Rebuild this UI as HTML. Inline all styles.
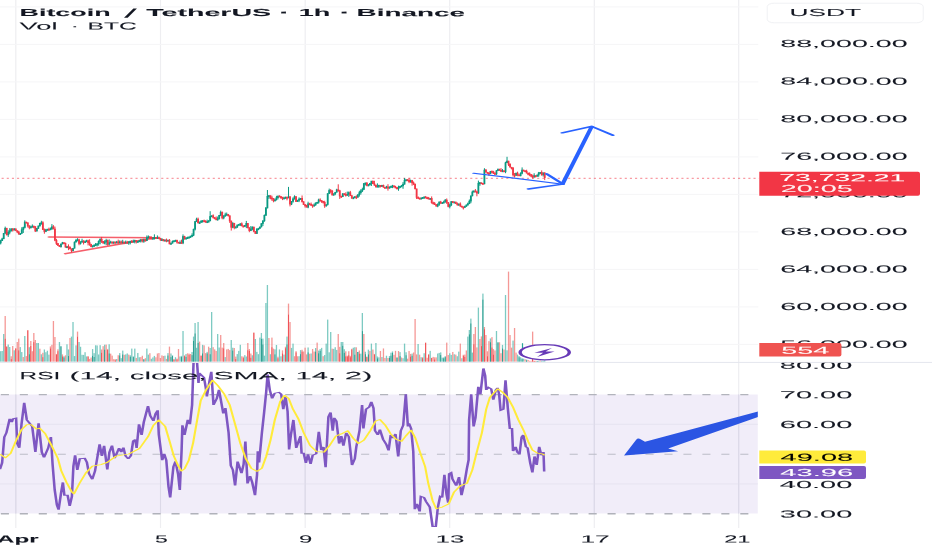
<!DOCTYPE html>
<html lang="en"><head><meta charset="utf-8"><title>Bitcoin / TetherUS chart</title>
<style>html,body{margin:0;padding:0;background:#fff;overflow:hidden}svg{display:block}text{font-family:"Liberation Sans",sans-serif;fill:#131722;stroke:#131722;stroke-width:0.06px;paint-order:stroke}</style></head><body>
<svg width="932" height="550" viewBox="0 0 932 550">
<defs><clipPath id="cpMain"><rect x="0" y="0" width="757.8" height="362"/></clipPath><clipPath id="cpRsi"><rect x="0" y="363" width="757.8" height="166"/></clipPath><clipPath id="cpAxisRsi"><rect x="758" y="362.8" width="174" height="170"/></clipPath></defs>
<rect width="932" height="550" fill="#fff"/>
<g stroke="#eeeef1" stroke-width="1.2">
<line x1="15.8" y1="0" x2="15.8" y2="528"/>
<line x1="160.5" y1="0" x2="160.5" y2="528"/>
<line x1="305.2" y1="0" x2="305.2" y2="528"/>
<line x1="449.7" y1="0" x2="449.7" y2="528"/>
<line x1="594.3" y1="0" x2="594.3" y2="528"/>
<line x1="738.7" y1="0" x2="738.7" y2="528"/>
</g>
<g stroke="#f5f5f7" stroke-width="1">
<line x1="0" y1="6.9" x2="758.3" y2="6.9"/>
<line x1="0" y1="44.4" x2="758.3" y2="44.4"/>
<line x1="0" y1="81.9" x2="758.3" y2="81.9"/>
<line x1="0" y1="119.4" x2="758.3" y2="119.4"/>
<line x1="0" y1="156.9" x2="758.3" y2="156.9"/>
<line x1="0" y1="194.4" x2="758.3" y2="194.4"/>
<line x1="0" y1="231.9" x2="758.3" y2="231.9"/>
<line x1="0" y1="269.4" x2="758.3" y2="269.4"/>
<line x1="0" y1="306.9" x2="758.3" y2="306.9"/>
<line x1="0" y1="344.4" x2="758.3" y2="344.4"/>
</g>
<rect x="0" y="394.5" width="757.8" height="119" fill="#7e57c2" fill-opacity="0.105"/>
<g stroke="#e6e3f0" stroke-width="1">
<line x1="0" y1="424.3" x2="757.8" y2="424.3"/>
<line x1="0" y1="483.9" x2="757.8" y2="483.9"/>
</g>
<g stroke="#dcd9e8" stroke-width="1">
<line x1="15.8" y1="394.5" x2="15.8" y2="513.5"/>
<line x1="160.5" y1="394.5" x2="160.5" y2="513.5"/>
<line x1="305.2" y1="394.5" x2="305.2" y2="513.5"/>
<line x1="449.7" y1="394.5" x2="449.7" y2="513.5"/>
<line x1="594.3" y1="394.5" x2="594.3" y2="513.5"/>
<line x1="738.7" y1="394.5" x2="738.7" y2="513.5"/>
</g>
<g stroke="#b2b4bc" stroke-dasharray="8.1 10.86">
<line x1="-18.12" y1="394.6" x2="757.8" y2="394.6" stroke-width="1.25" stroke="#b2b4bc"/>
<line x1="-18.12" y1="454.3" x2="757.8" y2="454.3" stroke-width="1.05" stroke="#bcbdc8"/>
<line x1="-18.12" y1="513.7" x2="757.8" y2="513.7" stroke-width="1.5" stroke="#b0b2ba"/>
</g>
<rect x="0" y="361.9" width="932" height="1" fill="#e4e6ee"/>
<g clip-path="url(#cpMain)">
<g fill="#26a69a" fill-opacity="0.6"><rect x="0.02" y="351.17" width="1.3" height="10.43"/><rect x="1.53" y="351" width="1.3" height="10.6"/><rect x="3.04" y="334" width="1.3" height="27.6"/><rect x="7.56" y="344.51" width="1.3" height="17.09"/><rect x="9.07" y="347" width="1.3" height="14.6"/><rect x="13.59" y="350.3" width="1.3" height="11.3"/><rect x="19.61" y="347.09" width="1.3" height="14.51"/><rect x="21.12" y="352.03" width="1.3" height="9.57"/><rect x="24.14" y="336" width="1.3" height="25.6"/><rect x="28.66" y="347.2" width="1.3" height="14.4"/><rect x="36.19" y="343" width="1.3" height="18.6"/><rect x="37.7" y="343" width="1.3" height="18.6"/><rect x="40.71" y="354.28" width="1.3" height="7.32"/><rect x="43.73" y="349.47" width="1.3" height="12.13"/><rect x="45.23" y="352.22" width="1.3" height="9.38"/><rect x="46.74" y="350.76" width="1.3" height="10.84"/><rect x="48.25" y="354.67" width="1.3" height="6.93"/><rect x="58.8" y="342" width="1.3" height="19.6"/><rect x="60.3" y="345.97" width="1.3" height="15.63"/><rect x="63.32" y="356.26" width="1.3" height="5.34"/><rect x="66.33" y="344.3" width="1.3" height="17.3"/><rect x="67.84" y="349.45" width="1.3" height="12.15"/><rect x="70.85" y="336.6" width="1.3" height="25"/><rect x="72.36" y="322" width="1.3" height="39.6"/><rect x="73.87" y="356.07" width="1.3" height="5.53"/><rect x="75.37" y="345.35" width="1.3" height="16.25"/><rect x="78.39" y="342" width="1.3" height="19.6"/><rect x="79.89" y="346.77" width="1.3" height="14.83"/><rect x="81.4" y="354.78" width="1.3" height="6.82"/><rect x="82.91" y="354.89" width="1.3" height="6.71"/><rect x="84.42" y="352.2" width="1.3" height="9.4"/><rect x="85.92" y="356.43" width="1.3" height="5.17"/><rect x="91.95" y="349.06" width="1.3" height="12.54"/><rect x="93.46" y="353.14" width="1.3" height="8.46"/><rect x="94.96" y="345.28" width="1.3" height="16.32"/><rect x="96.47" y="345.46" width="1.3" height="16.14"/><rect x="97.98" y="354.47" width="1.3" height="7.13"/><rect x="99.49" y="345.17" width="1.3" height="16.43"/><rect x="104.01" y="344.7" width="1.3" height="16.9"/><rect x="108.53" y="344.28" width="1.3" height="17.32"/><rect x="116.06" y="359.02" width="1.3" height="2.58"/><rect x="119.08" y="353.1" width="1.3" height="8.5"/><rect x="120.58" y="358.16" width="1.3" height="3.44"/><rect x="122.09" y="350.6" width="1.3" height="11"/><rect x="125.1" y="354.41" width="1.3" height="7.19"/><rect x="126.61" y="353.43" width="1.3" height="8.17"/><rect x="129.63" y="355.26" width="1.3" height="6.34"/><rect x="131.13" y="348.6" width="1.3" height="13"/><rect x="132.64" y="356.31" width="1.3" height="5.29"/><rect x="134.15" y="348.6" width="1.3" height="13"/><rect x="137.16" y="352.97" width="1.3" height="8.63"/><rect x="138.67" y="357.24" width="1.3" height="4.36"/><rect x="143.19" y="359.14" width="1.3" height="2.46"/><rect x="146.2" y="348.6" width="1.3" height="13"/><rect x="147.71" y="354.62" width="1.3" height="6.98"/><rect x="150.72" y="358.77" width="1.3" height="2.83"/><rect x="152.23" y="357.44" width="1.3" height="4.16"/><rect x="153.74" y="355.93" width="1.3" height="5.67"/><rect x="164.29" y="355.67" width="1.3" height="5.93"/><rect x="167.3" y="353.11" width="1.3" height="8.49"/><rect x="170.31" y="353.47" width="1.3" height="8.13"/><rect x="171.82" y="355.31" width="1.3" height="6.29"/><rect x="174.84" y="357.23" width="1.3" height="4.37"/><rect x="179.36" y="356.49" width="1.3" height="5.11"/><rect x="180.86" y="355.88" width="1.3" height="5.72"/><rect x="182.37" y="331" width="1.3" height="30.6"/><rect x="185.38" y="354.06" width="1.3" height="7.54"/><rect x="191.41" y="351.95" width="1.3" height="9.65"/><rect x="192.92" y="336.6" width="1.3" height="25"/><rect x="194.43" y="323" width="1.3" height="38.6"/><rect x="195.93" y="347.75" width="1.3" height="13.85"/><rect x="197.44" y="322" width="1.3" height="39.6"/><rect x="201.96" y="344.85" width="1.3" height="16.75"/><rect x="206.48" y="351.85" width="1.3" height="9.75"/><rect x="209.5" y="347.98" width="1.3" height="13.62"/><rect x="211" y="312" width="1.3" height="49.6"/><rect x="217.03" y="334" width="1.3" height="27.6"/><rect x="218.54" y="347.5" width="1.3" height="14.1"/><rect x="224.57" y="357.09" width="1.3" height="4.51"/><rect x="230.59" y="340" width="1.3" height="21.6"/><rect x="232.1" y="347.7" width="1.3" height="13.9"/><rect x="236.62" y="354.09" width="1.3" height="7.51"/><rect x="238.13" y="350.88" width="1.3" height="10.72"/><rect x="239.64" y="344.79" width="1.3" height="16.81"/><rect x="244.16" y="355.11" width="1.3" height="6.49"/><rect x="245.66" y="356.49" width="1.3" height="5.11"/><rect x="251.69" y="355.27" width="1.3" height="6.33"/><rect x="254.71" y="339" width="1.3" height="22.6"/><rect x="256.21" y="351.86" width="1.3" height="9.74"/><rect x="257.72" y="354.18" width="1.3" height="7.42"/><rect x="259.23" y="337.6" width="1.3" height="24"/><rect x="260.73" y="333" width="1.3" height="28.6"/><rect x="262.24" y="338.6" width="1.3" height="23"/><rect x="263.75" y="355.67" width="1.3" height="5.93"/><rect x="265.26" y="303" width="1.3" height="58.6"/><rect x="266.76" y="285" width="1.3" height="76.6"/><rect x="269.78" y="354.24" width="1.3" height="7.36"/><rect x="274.3" y="349.31" width="1.3" height="12.29"/><rect x="275.8" y="344.98" width="1.3" height="16.62"/><rect x="278.82" y="349.43" width="1.3" height="12.17"/><rect x="280.33" y="356.32" width="1.3" height="5.28"/><rect x="283.34" y="354.59" width="1.3" height="7.01"/><rect x="286.35" y="336.6" width="1.3" height="25"/><rect x="290.87" y="347.9" width="1.3" height="13.7"/><rect x="292.38" y="343.6" width="1.3" height="18"/><rect x="298.41" y="356.2" width="1.3" height="5.4"/><rect x="299.92" y="350.12" width="1.3" height="11.48"/><rect x="307.45" y="347.47" width="1.3" height="14.13"/><rect x="310.47" y="353.49" width="1.3" height="8.11"/><rect x="314.99" y="348.06" width="1.3" height="13.54"/><rect x="318" y="350.59" width="1.3" height="11.01"/><rect x="319.51" y="349.08" width="1.3" height="12.52"/><rect x="321.01" y="347.86" width="1.3" height="13.74"/><rect x="324.03" y="355.05" width="1.3" height="6.55"/><rect x="325.54" y="343.6" width="1.3" height="18"/><rect x="327.04" y="319.6" width="1.3" height="42"/><rect x="328.55" y="352.32" width="1.3" height="9.28"/><rect x="330.06" y="332" width="1.3" height="29.6"/><rect x="333.07" y="348.89" width="1.3" height="12.71"/><rect x="334.58" y="347.21" width="1.3" height="14.39"/><rect x="336.08" y="349.94" width="1.3" height="11.66"/><rect x="340.61" y="342" width="1.3" height="19.6"/><rect x="342.11" y="342" width="1.3" height="19.6"/><rect x="343.62" y="349.21" width="1.3" height="12.39"/><rect x="352.66" y="347.69" width="1.3" height="13.91"/><rect x="354.17" y="347.22" width="1.3" height="14.38"/><rect x="357.18" y="351.95" width="1.3" height="9.65"/><rect x="360.2" y="353.66" width="1.3" height="7.94"/><rect x="361.7" y="313" width="1.3" height="48.6"/><rect x="364.72" y="351.73" width="1.3" height="9.87"/><rect x="367.73" y="349.64" width="1.3" height="11.96"/><rect x="370.75" y="343.6" width="1.3" height="18"/><rect x="375.27" y="343" width="1.3" height="18.6"/><rect x="376.77" y="356.52" width="1.3" height="5.08"/><rect x="378.28" y="357.34" width="1.3" height="4.26"/><rect x="381.29" y="357.04" width="1.3" height="4.56"/><rect x="385.82" y="355.73" width="1.3" height="5.87"/><rect x="388.83" y="356.03" width="1.3" height="5.57"/><rect x="390.34" y="352.7" width="1.3" height="8.9"/><rect x="391.84" y="351.43" width="1.3" height="10.17"/><rect x="396.36" y="357.18" width="1.3" height="4.42"/><rect x="399.38" y="352.1" width="1.3" height="9.5"/><rect x="402.39" y="358.22" width="1.3" height="3.38"/><rect x="403.9" y="343.6" width="1.3" height="18"/><rect x="405.41" y="352.23" width="1.3" height="9.37"/><rect x="411.43" y="353.59" width="1.3" height="8.01"/><rect x="417.46" y="344" width="1.3" height="17.6"/><rect x="420.48" y="357.22" width="1.3" height="4.38"/><rect x="423.49" y="353.22" width="1.3" height="8.38"/><rect x="429.52" y="350.86" width="1.3" height="10.74"/><rect x="437.05" y="353.53" width="1.3" height="8.07"/><rect x="438.56" y="352.9" width="1.3" height="8.7"/><rect x="440.07" y="352.37" width="1.3" height="9.23"/><rect x="441.57" y="357.66" width="1.3" height="3.94"/><rect x="443.08" y="357.41" width="1.3" height="4.19"/><rect x="444.59" y="356.14" width="1.3" height="5.46"/><rect x="449.11" y="353.29" width="1.3" height="8.31"/><rect x="450.62" y="354.91" width="1.3" height="6.69"/><rect x="453.63" y="354.27" width="1.3" height="7.33"/><rect x="456.64" y="356.23" width="1.3" height="5.37"/><rect x="458.15" y="351.6" width="1.3" height="10"/><rect x="461.17" y="358.24" width="1.3" height="3.36"/><rect x="467.19" y="336.59" width="1.3" height="25.01"/><rect x="468.7" y="330" width="1.3" height="31.6"/><rect x="470.21" y="318.6" width="1.3" height="43"/><rect x="471.71" y="352.6" width="1.3" height="9"/><rect x="477.74" y="307.6" width="1.3" height="54"/><rect x="482.26" y="293.6" width="1.3" height="68"/><rect x="489.8" y="338.43" width="1.3" height="23.17"/><rect x="495.83" y="331" width="1.3" height="30.6"/><rect x="497.33" y="342" width="1.3" height="19.6"/><rect x="501.85" y="344.91" width="1.3" height="16.69"/><rect x="504.87" y="295" width="1.3" height="66.6"/><rect x="506.38" y="350.28" width="1.3" height="11.32"/><rect x="512.4" y="340.6" width="1.3" height="21"/><rect x="516.92" y="354.6" width="1.3" height="7"/><rect x="518.43" y="356.1" width="1.3" height="5.5"/><rect x="519.94" y="357.3" width="1.3" height="4.3"/><rect x="521.45" y="358.2" width="1.3" height="3.4"/><rect x="522.95" y="358.7" width="1.3" height="2.9"/><rect x="525.97" y="359.6" width="1.3" height="2"/><rect x="536.52" y="360.8" width="1.3" height="0.8"/><rect x="538.02" y="360.8" width="1.3" height="0.8"/><rect x="541.04" y="360.8" width="1.3" height="0.8"/><rect x="542.54" y="360.8" width="1.3" height="0.8"/><rect x="544.05" y="360.4" width="1.3" height="1.2"/></g>
<g fill="#ef5350" fill-opacity="0.6"><rect x="4.54" y="316" width="1.3" height="45.6"/><rect x="6.05" y="346.52" width="1.3" height="15.08"/><rect x="10.57" y="356.28" width="1.3" height="5.32"/><rect x="12.08" y="346" width="1.3" height="15.6"/><rect x="15.09" y="348.44" width="1.3" height="13.16"/><rect x="16.6" y="342" width="1.3" height="19.6"/><rect x="18.11" y="338.6" width="1.3" height="23"/><rect x="22.63" y="357.04" width="1.3" height="4.56"/><rect x="25.64" y="356.1" width="1.3" height="5.5"/><rect x="27.15" y="330" width="1.3" height="31.6"/><rect x="30.16" y="341" width="1.3" height="20.6"/><rect x="31.67" y="351.23" width="1.3" height="10.37"/><rect x="33.18" y="333" width="1.3" height="28.6"/><rect x="34.68" y="340" width="1.3" height="21.6"/><rect x="39.21" y="348.71" width="1.3" height="12.89"/><rect x="42.22" y="352.77" width="1.3" height="8.83"/><rect x="49.75" y="346.42" width="1.3" height="15.18"/><rect x="51.26" y="344.82" width="1.3" height="16.78"/><rect x="52.77" y="321" width="1.3" height="40.6"/><rect x="54.28" y="337" width="1.3" height="24.6"/><rect x="55.78" y="353.95" width="1.3" height="7.65"/><rect x="57.29" y="349.3" width="1.3" height="12.3"/><rect x="61.81" y="354.4" width="1.3" height="7.2"/><rect x="64.82" y="355.34" width="1.3" height="6.26"/><rect x="69.35" y="338" width="1.3" height="23.6"/><rect x="76.88" y="331.6" width="1.3" height="30"/><rect x="87.43" y="356.07" width="1.3" height="5.53"/><rect x="88.94" y="358.94" width="1.3" height="2.66"/><rect x="90.44" y="357.54" width="1.3" height="4.06"/><rect x="100.99" y="349.47" width="1.3" height="12.13"/><rect x="102.5" y="346.17" width="1.3" height="15.43"/><rect x="105.51" y="344.6" width="1.3" height="17"/><rect x="107.02" y="348.92" width="1.3" height="12.68"/><rect x="110.03" y="353.65" width="1.3" height="7.95"/><rect x="111.54" y="355.62" width="1.3" height="5.98"/><rect x="113.05" y="359.2" width="1.3" height="2.4"/><rect x="114.56" y="359.16" width="1.3" height="2.44"/><rect x="117.57" y="355.23" width="1.3" height="6.37"/><rect x="123.6" y="354.79" width="1.3" height="6.81"/><rect x="128.12" y="354.63" width="1.3" height="6.97"/><rect x="135.65" y="357.94" width="1.3" height="3.66"/><rect x="140.17" y="357.06" width="1.3" height="4.54"/><rect x="141.68" y="355.75" width="1.3" height="5.85"/><rect x="144.7" y="358.2" width="1.3" height="3.4"/><rect x="149.22" y="353.18" width="1.3" height="8.42"/><rect x="155.24" y="357.3" width="1.3" height="4.3"/><rect x="156.75" y="353.47" width="1.3" height="8.13"/><rect x="158.26" y="353.03" width="1.3" height="8.57"/><rect x="159.77" y="358.02" width="1.3" height="3.58"/><rect x="161.27" y="355.39" width="1.3" height="6.21"/><rect x="162.78" y="355.97" width="1.3" height="5.63"/><rect x="165.79" y="358.9" width="1.3" height="2.7"/><rect x="168.81" y="346.6" width="1.3" height="15"/><rect x="173.33" y="359.18" width="1.3" height="2.42"/><rect x="176.34" y="358.64" width="1.3" height="2.96"/><rect x="177.85" y="349" width="1.3" height="12.6"/><rect x="183.88" y="355.35" width="1.3" height="6.25"/><rect x="186.89" y="353.33" width="1.3" height="8.27"/><rect x="188.4" y="353.56" width="1.3" height="8.04"/><rect x="189.91" y="353.98" width="1.3" height="7.62"/><rect x="198.95" y="341.6" width="1.3" height="20"/><rect x="200.45" y="355.39" width="1.3" height="6.21"/><rect x="203.47" y="345.33" width="1.3" height="16.27"/><rect x="204.98" y="353.14" width="1.3" height="8.46"/><rect x="207.99" y="346.67" width="1.3" height="14.93"/><rect x="212.51" y="347.2" width="1.3" height="14.4"/><rect x="214.02" y="349.36" width="1.3" height="12.24"/><rect x="215.52" y="350.92" width="1.3" height="10.68"/><rect x="220.05" y="335" width="1.3" height="26.6"/><rect x="221.55" y="347.63" width="1.3" height="13.97"/><rect x="223.06" y="343" width="1.3" height="18.6"/><rect x="226.07" y="349.42" width="1.3" height="12.18"/><rect x="227.58" y="348.9" width="1.3" height="12.7"/><rect x="229.09" y="350.11" width="1.3" height="11.49"/><rect x="233.61" y="347.99" width="1.3" height="13.61"/><rect x="235.12" y="356.59" width="1.3" height="5.01"/><rect x="241.14" y="356.27" width="1.3" height="5.33"/><rect x="242.65" y="356.66" width="1.3" height="4.94"/><rect x="247.17" y="343" width="1.3" height="18.6"/><rect x="248.68" y="349.04" width="1.3" height="12.56"/><rect x="250.19" y="353.52" width="1.3" height="8.08"/><rect x="253.2" y="332.6" width="1.3" height="29"/><rect x="268.27" y="338" width="1.3" height="23.6"/><rect x="271.28" y="337.6" width="1.3" height="24"/><rect x="272.79" y="348.66" width="1.3" height="12.94"/><rect x="277.31" y="356.73" width="1.3" height="4.87"/><rect x="281.83" y="350.34" width="1.3" height="11.26"/><rect x="284.85" y="346.74" width="1.3" height="14.86"/><rect x="287.86" y="303.6" width="1.3" height="58"/><rect x="289.37" y="322" width="1.3" height="39.6"/><rect x="293.89" y="356.24" width="1.3" height="5.36"/><rect x="295.4" y="351.16" width="1.3" height="10.44"/><rect x="296.9" y="356.27" width="1.3" height="5.33"/><rect x="301.42" y="349.76" width="1.3" height="11.84"/><rect x="302.93" y="351.49" width="1.3" height="10.11"/><rect x="304.44" y="347.7" width="1.3" height="13.9"/><rect x="305.94" y="354.4" width="1.3" height="7.2"/><rect x="308.96" y="353.73" width="1.3" height="7.87"/><rect x="311.97" y="348.98" width="1.3" height="12.62"/><rect x="313.48" y="351.56" width="1.3" height="10.04"/><rect x="316.49" y="342.6" width="1.3" height="19"/><rect x="322.52" y="356.17" width="1.3" height="5.43"/><rect x="331.56" y="348.66" width="1.3" height="12.94"/><rect x="337.59" y="334" width="1.3" height="27.6"/><rect x="339.1" y="346.85" width="1.3" height="14.75"/><rect x="345.13" y="351.33" width="1.3" height="10.27"/><rect x="346.63" y="355.72" width="1.3" height="5.88"/><rect x="348.14" y="351.21" width="1.3" height="10.39"/><rect x="349.65" y="355.85" width="1.3" height="5.75"/><rect x="351.15" y="348.76" width="1.3" height="12.84"/><rect x="355.68" y="347.33" width="1.3" height="14.27"/><rect x="358.69" y="350.52" width="1.3" height="11.08"/><rect x="363.21" y="334" width="1.3" height="27.6"/><rect x="366.22" y="356.59" width="1.3" height="5.01"/><rect x="369.24" y="350.93" width="1.3" height="10.67"/><rect x="372.25" y="349.53" width="1.3" height="12.07"/><rect x="373.76" y="353.93" width="1.3" height="7.67"/><rect x="379.79" y="350.95" width="1.3" height="10.65"/><rect x="382.8" y="348.43" width="1.3" height="13.17"/><rect x="384.31" y="357.98" width="1.3" height="3.62"/><rect x="387.32" y="358" width="1.3" height="3.6"/><rect x="393.35" y="354.81" width="1.3" height="6.79"/><rect x="394.86" y="350.86" width="1.3" height="10.74"/><rect x="397.87" y="351.02" width="1.3" height="10.58"/><rect x="400.89" y="357.54" width="1.3" height="4.06"/><rect x="406.91" y="358.68" width="1.3" height="2.92"/><rect x="408.42" y="350.94" width="1.3" height="10.66"/><rect x="409.93" y="353.93" width="1.3" height="7.67"/><rect x="412.94" y="352.49" width="1.3" height="9.11"/><rect x="414.45" y="319" width="1.3" height="42.6"/><rect x="415.96" y="354.41" width="1.3" height="7.19"/><rect x="418.97" y="354.67" width="1.3" height="6.93"/><rect x="421.98" y="357.22" width="1.3" height="4.38"/><rect x="425" y="342.6" width="1.3" height="19"/><rect x="426.5" y="357.72" width="1.3" height="3.88"/><rect x="428.01" y="354.31" width="1.3" height="7.29"/><rect x="431.03" y="357.82" width="1.3" height="3.78"/><rect x="432.53" y="356.87" width="1.3" height="4.73"/><rect x="434.04" y="357.32" width="1.3" height="4.28"/><rect x="435.55" y="357.36" width="1.3" height="4.24"/><rect x="446.1" y="342.6" width="1.3" height="19"/><rect x="447.6" y="355.04" width="1.3" height="6.56"/><rect x="452.12" y="351.96" width="1.3" height="9.64"/><rect x="455.14" y="354.6" width="1.3" height="7"/><rect x="459.66" y="343.6" width="1.3" height="18"/><rect x="462.67" y="354.78" width="1.3" height="6.82"/><rect x="464.18" y="354.59" width="1.3" height="7.01"/><rect x="465.69" y="350.47" width="1.3" height="11.13"/><rect x="473.22" y="334" width="1.3" height="27.6"/><rect x="474.73" y="327" width="1.3" height="34.6"/><rect x="476.24" y="347.4" width="1.3" height="14.2"/><rect x="479.25" y="339" width="1.3" height="22.6"/><rect x="480.76" y="336.38" width="1.3" height="25.22"/><rect x="483.77" y="327" width="1.3" height="34.6"/><rect x="485.28" y="335" width="1.3" height="26.6"/><rect x="486.78" y="351.31" width="1.3" height="10.29"/><rect x="488.29" y="341.16" width="1.3" height="20.44"/><rect x="491.31" y="337.13" width="1.3" height="24.47"/><rect x="492.81" y="349.11" width="1.3" height="12.49"/><rect x="494.32" y="350.48" width="1.3" height="11.12"/><rect x="498.84" y="342.28" width="1.3" height="19.32"/><rect x="500.35" y="353.24" width="1.3" height="8.36"/><rect x="503.36" y="349.54" width="1.3" height="12.06"/><rect x="507.88" y="271.6" width="1.3" height="90"/><rect x="509.39" y="335" width="1.3" height="26.6"/><rect x="510.9" y="347.64" width="1.3" height="13.96"/><rect x="513.91" y="328" width="1.3" height="33.6"/><rect x="515.42" y="352.6" width="1.3" height="9"/><rect x="524.46" y="359.2" width="1.3" height="2.4"/><rect x="527.47" y="360" width="1.3" height="1.6"/><rect x="528.98" y="360.8" width="1.3" height="0.8"/><rect x="530.49" y="360.8" width="1.3" height="0.8"/><rect x="531.99" y="331.6" width="1.3" height="30"/><rect x="533.5" y="360.8" width="1.3" height="0.8"/><rect x="535.01" y="360.8" width="1.3" height="0.8"/><rect x="539.53" y="360.58" width="1.3" height="1.02"/></g>
<g fill="#0e8f80" fill-opacity="0.9"><rect x="28.91" y="354.32" width="0.8" height="7.28"/><rect x="60.55" y="346.68" width="0.8" height="14.92"/><rect x="63.57" y="357.52" width="0.8" height="4.08"/><rect x="68.09" y="356.01" width="0.8" height="5.59"/><rect x="92.2" y="355.88" width="0.8" height="5.72"/><rect x="93.71" y="357" width="0.8" height="4.6"/><rect x="104.26" y="349.81" width="0.8" height="11.79"/><rect x="108.78" y="353.51" width="0.8" height="8.09"/><rect x="119.33" y="355.55" width="0.8" height="6.05"/><rect x="122.34" y="354.56" width="0.8" height="7.04"/><rect x="129.88" y="356.76" width="0.8" height="4.84"/><rect x="132.89" y="357.12" width="0.8" height="4.48"/><rect x="143.44" y="359.41" width="0.8" height="2.19"/><rect x="167.55" y="355.57" width="0.8" height="6.03"/><rect x="170.56" y="357.09" width="0.8" height="4.51"/><rect x="172.07" y="356.07" width="0.8" height="5.53"/><rect x="181.11" y="357.04" width="0.8" height="4.56"/><rect x="185.63" y="356.9" width="0.8" height="4.7"/><rect x="191.66" y="355.12" width="0.8" height="6.48"/><rect x="193.17" y="340.97" width="0.8" height="20.63"/><rect x="194.68" y="333.49" width="0.8" height="28.11"/><rect x="197.69" y="342.96" width="0.8" height="18.64"/><rect x="202.21" y="353.49" width="0.8" height="8.11"/><rect x="206.73" y="353.45" width="0.8" height="8.15"/><rect x="209.75" y="354.24" width="0.8" height="7.36"/><rect x="232.35" y="350.64" width="0.8" height="10.96"/><rect x="260.98" y="338.91" width="0.8" height="22.69"/><rect x="262.49" y="344.57" width="0.8" height="17.03"/><rect x="274.55" y="354.39" width="0.8" height="7.21"/><rect x="286.6" y="344.52" width="0.8" height="17.08"/><rect x="300.17" y="354.17" width="0.8" height="7.43"/><rect x="307.7" y="352.43" width="0.8" height="9.17"/><rect x="315.24" y="351.67" width="0.8" height="9.93"/><rect x="318.25" y="353.33" width="0.8" height="8.27"/><rect x="319.76" y="350.89" width="0.8" height="10.71"/><rect x="342.36" y="345.79" width="0.8" height="15.81"/><rect x="343.87" y="352.9" width="0.8" height="8.7"/><rect x="354.42" y="354.74" width="0.8" height="6.86"/><rect x="357.43" y="352" width="0.8" height="9.6"/><rect x="361.95" y="331.13" width="0.8" height="30.47"/><rect x="364.97" y="354.26" width="0.8" height="7.34"/><rect x="367.98" y="354.44" width="0.8" height="7.16"/><rect x="377.02" y="358.45" width="0.8" height="3.15"/><rect x="389.08" y="357.94" width="0.8" height="3.66"/><rect x="390.59" y="355.68" width="0.8" height="5.92"/><rect x="392.09" y="352.93" width="0.8" height="8.67"/><rect x="396.61" y="357.96" width="0.8" height="3.64"/><rect x="399.63" y="356.14" width="0.8" height="5.46"/><rect x="405.66" y="355.26" width="0.8" height="6.34"/><rect x="411.68" y="355.75" width="0.8" height="5.85"/><rect x="440.32" y="355.07" width="0.8" height="6.53"/><rect x="443.33" y="358.41" width="0.8" height="3.19"/><rect x="444.84" y="357.13" width="0.8" height="4.47"/><rect x="468.95" y="334.4" width="0.8" height="27.2"/><rect x="470.46" y="323.51" width="0.8" height="38.09"/><rect x="482.51" y="299.66" width="0.8" height="61.94"/><rect x="490.05" y="342.3" width="0.8" height="19.3"/><rect x="497.58" y="342.79" width="0.8" height="18.81"/><rect x="502.1" y="348.59" width="0.8" height="13.01"/><rect x="518.68" y="357.29" width="0.8" height="4.31"/><rect x="521.7" y="359.16" width="0.8" height="2.44"/><rect x="526.22" y="360.53" width="0.8" height="1.07"/><rect x="536.77" y="361.13" width="0.8" height="0.47"/></g>
<g fill="#f0383f" fill-opacity="0.9"><rect x="4.79" y="338.81" width="0.8" height="22.79"/><rect x="6.3" y="346.67" width="0.8" height="14.93"/><rect x="10.82" y="359.12" width="0.8" height="2.48"/><rect x="15.34" y="348.46" width="0.8" height="13.14"/><rect x="18.36" y="350.36" width="0.8" height="11.24"/><rect x="27.4" y="330.62" width="0.8" height="30.98"/><rect x="30.41" y="345.99" width="0.8" height="15.61"/><rect x="33.43" y="342.11" width="0.8" height="19.49"/><rect x="42.47" y="357.19" width="0.8" height="4.41"/><rect x="50" y="348.59" width="0.8" height="13.01"/><rect x="56.03" y="354.69" width="0.8" height="6.91"/><rect x="57.54" y="351.19" width="0.8" height="10.41"/><rect x="62.06" y="356.59" width="0.8" height="5.01"/><rect x="77.13" y="336.8" width="0.8" height="24.8"/><rect x="87.68" y="356.83" width="0.8" height="4.77"/><rect x="101.24" y="352.83" width="0.8" height="8.77"/><rect x="107.27" y="350.04" width="0.8" height="11.56"/><rect x="114.81" y="360.32" width="0.8" height="1.28"/><rect x="173.58" y="359.59" width="0.8" height="2.01"/><rect x="176.59" y="359.44" width="0.8" height="2.16"/><rect x="184.13" y="356.24" width="0.8" height="5.36"/><rect x="188.65" y="354.77" width="0.8" height="6.83"/><rect x="200.7" y="355.94" width="0.8" height="5.66"/><rect x="223.31" y="348.43" width="0.8" height="13.17"/><rect x="235.37" y="359.08" width="0.8" height="2.52"/><rect x="242.9" y="358.1" width="0.8" height="3.5"/><rect x="247.42" y="350.31" width="0.8" height="11.29"/><rect x="248.93" y="350.99" width="0.8" height="10.61"/><rect x="250.44" y="357.78" width="0.8" height="3.82"/><rect x="253.45" y="332.78" width="0.8" height="28.82"/><rect x="271.53" y="347.22" width="0.8" height="14.38"/><rect x="277.56" y="358.27" width="0.8" height="3.33"/><rect x="282.08" y="353.57" width="0.8" height="8.03"/><rect x="285.1" y="348.3" width="0.8" height="13.3"/><rect x="288.11" y="314.65" width="0.8" height="46.95"/><rect x="295.65" y="352.45" width="0.8" height="9.15"/><rect x="301.67" y="351.66" width="0.8" height="9.94"/><rect x="339.35" y="353.3" width="0.8" height="8.3"/><rect x="345.38" y="356.36" width="0.8" height="5.24"/><rect x="346.88" y="356.63" width="0.8" height="4.97"/><rect x="348.39" y="355.32" width="0.8" height="6.28"/><rect x="349.9" y="357.28" width="0.8" height="4.32"/><rect x="351.4" y="349.56" width="0.8" height="12.04"/><rect x="358.94" y="353.73" width="0.8" height="7.87"/><rect x="366.47" y="357.09" width="0.8" height="4.51"/><rect x="374.01" y="354.66" width="0.8" height="6.94"/><rect x="410.18" y="356.71" width="0.8" height="4.89"/><rect x="422.23" y="358.24" width="0.8" height="3.36"/><rect x="425.25" y="342.88" width="0.8" height="18.72"/><rect x="428.26" y="354.68" width="0.8" height="6.92"/><rect x="431.28" y="358.03" width="0.8" height="3.57"/><rect x="434.29" y="359.6" width="0.8" height="2"/><rect x="462.92" y="355.92" width="0.8" height="5.68"/><rect x="464.43" y="356.92" width="0.8" height="4.68"/><rect x="473.47" y="344.25" width="0.8" height="17.35"/><rect x="481.01" y="346.16" width="0.8" height="15.44"/><rect x="484.02" y="329.29" width="0.8" height="32.31"/><rect x="487.03" y="356.37" width="0.8" height="5.23"/><rect x="491.56" y="347.59" width="0.8" height="14.01"/><rect x="493.06" y="354.74" width="0.8" height="6.86"/><rect x="532.24" y="345.69" width="0.8" height="15.91"/><rect x="533.75" y="360.97" width="0.8" height="0.63"/></g>
</g>
<rect x="521.9" y="343.2" width="1.2" height="5" fill="#26a69a"/>
<line x1="-3.55" y1="178.3" x2="758.8" y2="178.3" stroke="#f23645" stroke-opacity="0.62" stroke-width="1" stroke-dasharray="2.1 3.05"/>
<g transform="scale(2.7014,1)" stroke="#f23645" stroke-opacity="0.8" stroke-width="1.5" fill="none" stroke-linecap="round">
<line x1="18.29" y1="237" x2="57.56" y2="237.8"/>
<line x1="24.32" y1="253.6" x2="57.56" y2="237.8"/>
</g>
<g fill="#089981"><rect x="0.17" y="239.7" width="1" height="4.71"/><rect x="1.68" y="237.74" width="1" height="3.24"/><rect x="3.19" y="232.98" width="1" height="5.89"/><rect x="4.69" y="226.6" width="1" height="6.94"/><rect x="7.71" y="230.25" width="1" height="6.69"/><rect x="9.22" y="228.18" width="1" height="6.08"/><rect x="10.72" y="228.25" width="1" height="3.31"/><rect x="13.74" y="228.13" width="1" height="2.23"/><rect x="19.76" y="233.12" width="1" height="1.73"/><rect x="21.27" y="227.26" width="1" height="6.53"/><rect x="22.78" y="226.7" width="1" height="6.25"/><rect x="24.29" y="220.33" width="1" height="8.15"/><rect x="30.31" y="225.61" width="1" height="2.6"/><rect x="31.82" y="224.42" width="1" height="2.64"/><rect x="36.34" y="228.22" width="1" height="3.1"/><rect x="37.85" y="225.63" width="1" height="3.23"/><rect x="39.36" y="223.04" width="1" height="3.51"/><rect x="40.86" y="220.77" width="1" height="3.89"/><rect x="45.38" y="228.86" width="1" height="3.24"/><rect x="46.89" y="228.8" width="1" height="1.64"/><rect x="49.9" y="227.51" width="1" height="2.36"/><rect x="51.41" y="224.09" width="1" height="5.87"/><rect x="60.45" y="243.53" width="1" height="4.11"/><rect x="61.96" y="241.91" width="1" height="2.2"/><rect x="66.48" y="245.9" width="1" height="2.18"/><rect x="72.51" y="248.11" width="1" height="2.96"/><rect x="74.02" y="241.44" width="1" height="6.93"/><rect x="75.52" y="238.85" width="1" height="3.5"/><rect x="77.03" y="238.2" width="1" height="2.98"/><rect x="80.04" y="241.47" width="1" height="3.05"/><rect x="81.55" y="238.73" width="1" height="3.16"/><rect x="84.57" y="240.36" width="1" height="2.43"/><rect x="86.07" y="239.76" width="1" height="1.89"/><rect x="92.1" y="245.46" width="1" height="1.95"/><rect x="93.61" y="244.39" width="1" height="2.49"/><rect x="95.11" y="243.01" width="1" height="3.02"/><rect x="96.62" y="243.33" width="1" height="3.15"/><rect x="98.13" y="240.36" width="1" height="5.28"/><rect x="99.64" y="238.27" width="1" height="6.05"/><rect x="104.16" y="240.23" width="1" height="4.06"/><rect x="105.66" y="238.8" width="1" height="6.21"/><rect x="108.68" y="239.38" width="1" height="5.36"/><rect x="110.18" y="240.79" width="1" height="2.29"/><rect x="113.2" y="241.67" width="1" height="2.09"/><rect x="116.21" y="240.91" width="1" height="2.19"/><rect x="119.23" y="240.39" width="1" height="2.09"/><rect x="122.24" y="239.81" width="1" height="2.81"/><rect x="125.25" y="240.56" width="1" height="2.18"/><rect x="128.27" y="241.36" width="1" height="3.42"/><rect x="129.78" y="240.94" width="1" height="3.41"/><rect x="132.79" y="239.65" width="1" height="2.45"/><rect x="134.3" y="239.69" width="1" height="3.7"/><rect x="137.31" y="240.9" width="1" height="1.46"/><rect x="138.82" y="239.88" width="1" height="1.81"/><rect x="140.32" y="238.86" width="1" height="3.65"/><rect x="143.34" y="238.54" width="1" height="4.27"/><rect x="146.35" y="235.46" width="1" height="5.37"/><rect x="147.86" y="235.43" width="1" height="2.9"/><rect x="152.38" y="237.07" width="1" height="1.74"/><rect x="153.89" y="234.34" width="1" height="5.17"/><rect x="156.9" y="235.45" width="1" height="3.2"/><rect x="161.42" y="238.04" width="1" height="2.67"/><rect x="164.44" y="239.55" width="1" height="1.62"/><rect x="167.45" y="239.85" width="1" height="1.13"/><rect x="170.46" y="242.37" width="1" height="1.98"/><rect x="171.97" y="240.48" width="1" height="2.89"/><rect x="173.48" y="240.48" width="1" height="1.2"/><rect x="174.99" y="239.81" width="1" height="1.82"/><rect x="179.51" y="240.45" width="1" height="2.62"/><rect x="182.52" y="234.4" width="1" height="9.75"/><rect x="185.53" y="236.98" width="1" height="1.81"/><rect x="187.04" y="236.67" width="1" height="2.32"/><rect x="188.55" y="236.44" width="1" height="1.25"/><rect x="190.06" y="235.94" width="1" height="2.02"/><rect x="191.56" y="233.28" width="1" height="3.88"/><rect x="193.07" y="228.73" width="1" height="7.39"/><rect x="194.58" y="221.13" width="1" height="9.35"/><rect x="196.08" y="217.7" width="1" height="4.1"/><rect x="199.1" y="221.45" width="1" height="1.72"/><rect x="200.6" y="220.05" width="1" height="2.41"/><rect x="202.11" y="220.2" width="1" height="2.39"/><rect x="206.63" y="219.6" width="1" height="2.93"/><rect x="208.14" y="220.1" width="1" height="2.29"/><rect x="209.65" y="211.2" width="1" height="9.83"/><rect x="211.15" y="215.45" width="1" height="1.23"/><rect x="217.18" y="216.55" width="1" height="4.07"/><rect x="218.69" y="214.97" width="1" height="4.58"/><rect x="220.2" y="210.6" width="1" height="5.52"/><rect x="223.21" y="215.04" width="1" height="4.25"/><rect x="224.72" y="212.7" width="1" height="3.65"/><rect x="226.22" y="212.53" width="1" height="2.7"/><rect x="232.25" y="222.19" width="1" height="6.04"/><rect x="235.27" y="226.36" width="1" height="1.58"/><rect x="236.77" y="224.85" width="1" height="3.14"/><rect x="238.28" y="223.94" width="1" height="0.99"/><rect x="239.79" y="223.12" width="1" height="2.92"/><rect x="244.31" y="225.05" width="1" height="1.6"/><rect x="245.81" y="220.9" width="1" height="7.21"/><rect x="250.34" y="226.04" width="1" height="5.05"/><rect x="251.84" y="226.43" width="1" height="3.83"/><rect x="256.36" y="228.04" width="1" height="5.62"/><rect x="257.87" y="227.82" width="1" height="2.38"/><rect x="259.38" y="226.84" width="1" height="1.74"/><rect x="260.88" y="223.23" width="1" height="4.16"/><rect x="262.39" y="220.28" width="1" height="5.78"/><rect x="263.9" y="214.48" width="1" height="7.26"/><rect x="265.41" y="207" width="1" height="8.91"/><rect x="266.91" y="190" width="1" height="18.33"/><rect x="268.42" y="195.01" width="1" height="3.96"/><rect x="274.45" y="198.4" width="1" height="2.85"/><rect x="275.95" y="195.81" width="1" height="4.6"/><rect x="277.46" y="195.91" width="1" height="3.48"/><rect x="283.49" y="196.76" width="1" height="2.01"/><rect x="285" y="196.71" width="1" height="1.88"/><rect x="288.01" y="186.9" width="1" height="11.04"/><rect x="291.02" y="201.29" width="1" height="3.77"/><rect x="292.53" y="197.33" width="1" height="5.33"/><rect x="294.04" y="195.31" width="1" height="4.29"/><rect x="297.05" y="199.77" width="1" height="1.93"/><rect x="298.56" y="197.37" width="1" height="4.76"/><rect x="300.07" y="198.16" width="1" height="1.75"/><rect x="307.6" y="201.71" width="1" height="6.53"/><rect x="313.63" y="203.45" width="1" height="3.06"/><rect x="315.14" y="202.65" width="1" height="3.12"/><rect x="316.64" y="202.02" width="1" height="1.4"/><rect x="318.15" y="198.69" width="1" height="4.93"/><rect x="325.69" y="204.45" width="1" height="2.31"/><rect x="327.19" y="193.29" width="1" height="12.24"/><rect x="328.7" y="188.61" width="1" height="4.99"/><rect x="333.22" y="193.45" width="1" height="2.35"/><rect x="334.73" y="192.16" width="1" height="3.03"/><rect x="336.23" y="188.77" width="1" height="3.68"/><rect x="342.26" y="193.11" width="1" height="3.79"/><rect x="346.78" y="191.57" width="1" height="3.42"/><rect x="348.29" y="191.49" width="1" height="5.45"/><rect x="352.81" y="196.69" width="1" height="1.44"/><rect x="354.32" y="196.12" width="1" height="1.71"/><rect x="357.33" y="194.34" width="1" height="3.14"/><rect x="358.84" y="190.74" width="1" height="5.87"/><rect x="360.35" y="189.21" width="1" height="5.34"/><rect x="361.85" y="187.67" width="1" height="4.39"/><rect x="363.36" y="183.15" width="1" height="6.46"/><rect x="364.87" y="182.78" width="1" height="2.68"/><rect x="367.88" y="184.1" width="1" height="2.03"/><rect x="369.39" y="182.91" width="1" height="2.76"/><rect x="370.9" y="180.96" width="1" height="5.01"/><rect x="376.92" y="183.34" width="1" height="3.7"/><rect x="378.43" y="184.71" width="1" height="3.24"/><rect x="381.44" y="184.82" width="1" height="2.01"/><rect x="385.97" y="185.83" width="1" height="2.6"/><rect x="388.98" y="186.51" width="1" height="2"/><rect x="390.49" y="185.55" width="1" height="1.72"/><rect x="391.99" y="184.86" width="1" height="3.28"/><rect x="398.02" y="185.65" width="1" height="5.12"/><rect x="399.53" y="185.78" width="1" height="2.36"/><rect x="401.04" y="184.91" width="1" height="1.47"/><rect x="402.54" y="182.11" width="1" height="6.69"/><rect x="404.05" y="177.93" width="1" height="6.63"/><rect x="405.56" y="179.39" width="1" height="0.91"/><rect x="410.08" y="179.57" width="1" height="3.16"/><rect x="420.63" y="197.5" width="1" height="1.33"/><rect x="422.13" y="197.08" width="1" height="1.34"/><rect x="423.64" y="196.53" width="1" height="2.04"/><rect x="429.67" y="198.33" width="1" height="0.76"/><rect x="437.2" y="203.38" width="1" height="3.83"/><rect x="438.71" y="201.62" width="1" height="4.16"/><rect x="441.72" y="202.23" width="1" height="1.39"/><rect x="443.23" y="200.67" width="1" height="1.97"/><rect x="444.74" y="199.04" width="1" height="3.52"/><rect x="449.26" y="203.62" width="1" height="4.74"/><rect x="450.77" y="201.25" width="1" height="4.85"/><rect x="453.78" y="201.66" width="1" height="1.09"/><rect x="458.3" y="203.54" width="1" height="2.21"/><rect x="464.33" y="205.64" width="1" height="2"/><rect x="465.84" y="204.49" width="1" height="2.28"/><rect x="467.34" y="202.6" width="1" height="3.09"/><rect x="468.85" y="199.48" width="1" height="4.64"/><rect x="470.36" y="195.63" width="1" height="7.57"/><rect x="471.86" y="190.59" width="1" height="5.73"/><rect x="473.37" y="190.37" width="1" height="1.76"/><rect x="477.89" y="180.61" width="1" height="13.2"/><rect x="479.4" y="182" width="1" height="3.88"/><rect x="483.92" y="168.2" width="1" height="16.06"/><rect x="489.95" y="171.12" width="1" height="3.07"/><rect x="495.98" y="170.28" width="1" height="4.6"/><rect x="497.48" y="168.4" width="1" height="2.69"/><rect x="502" y="169.09" width="1" height="2.34"/><rect x="505.02" y="161.75" width="1" height="11.42"/><rect x="506.53" y="156.8" width="1" height="6.13"/><rect x="515.57" y="172.78" width="1" height="3.1"/><rect x="520.09" y="172.29" width="1" height="3.96"/><rect x="521.6" y="167.4" width="1" height="6.9"/><rect x="533.65" y="173.23" width="1" height="4.1"/><rect x="536.67" y="174.41" width="1" height="2.27"/><rect x="538.17" y="171.92" width="1" height="4.89"/><rect x="539.68" y="172.12" width="1" height="1.74"/><rect x="542.69" y="172.63" width="1" height="3.92"/><rect x="-0.23" y="240.42" width="1.8" height="2.88"/><rect x="1.28" y="238.55" width="1.8" height="2.47"/><rect x="2.79" y="233.01" width="1.8" height="6.14"/><rect x="4.29" y="227.91" width="1.8" height="5.7"/><rect x="7.31" y="231.98" width="1.8" height="3.17"/><rect x="8.82" y="230.5" width="1.8" height="2.08"/><rect x="10.32" y="228.58" width="1.8" height="2.52"/><rect x="13.34" y="228.58" width="1.8" height="1.8"/><rect x="19.36" y="233.1" width="1.8" height="1.8"/><rect x="20.87" y="229.38" width="1.8" height="4.32"/><rect x="22.38" y="227.19" width="1.8" height="2.79"/><rect x="23.89" y="221.79" width="1.8" height="6"/><rect x="29.91" y="226.47" width="1.8" height="1.8"/><rect x="31.42" y="225.87" width="1.8" height="1.8"/><rect x="35.94" y="228.04" width="1.8" height="3.35"/><rect x="37.45" y="225.62" width="1.8" height="3.02"/><rect x="38.96" y="222.82" width="1.8" height="3.41"/><rect x="40.46" y="222.35" width="1.8" height="1.8"/><rect x="44.98" y="229.54" width="1.8" height="2.29"/><rect x="46.49" y="228.94" width="1.8" height="1.8"/><rect x="49.5" y="228.46" width="1.8" height="1.8"/><rect x="51.01" y="226.5" width="1.8" height="2.56"/><rect x="60.05" y="243.81" width="1.8" height="3.21"/><rect x="61.56" y="242.3" width="1.8" height="2.11"/><rect x="66.08" y="246.26" width="1.8" height="1.8"/><rect x="72.11" y="247.95" width="1.8" height="3.21"/><rect x="73.62" y="241.8" width="1.8" height="6.75"/><rect x="75.12" y="240" width="1.8" height="2.4"/><rect x="76.63" y="239.4" width="1.8" height="1.8"/><rect x="79.64" y="241.37" width="1.8" height="2.4"/><rect x="81.15" y="240.77" width="1.8" height="1.8"/><rect x="84.17" y="241.18" width="1.8" height="1.8"/><rect x="85.67" y="240.42" width="1.8" height="1.8"/><rect x="91.7" y="245.43" width="1.8" height="1.8"/><rect x="93.21" y="244.83" width="1.8" height="1.8"/><rect x="94.71" y="244.23" width="1.8" height="1.8"/><rect x="96.22" y="243.43" width="1.8" height="1.8"/><rect x="97.73" y="240.98" width="1.8" height="3.06"/><rect x="99.24" y="238.98" width="1.8" height="2.6"/><rect x="103.76" y="241.73" width="1.8" height="1.8"/><rect x="105.26" y="240.14" width="1.8" height="2.18"/><rect x="108.28" y="242.26" width="1.8" height="2.49"/><rect x="109.78" y="241.66" width="1.8" height="1.8"/><rect x="112.8" y="241.6" width="1.8" height="1.8"/><rect x="115.81" y="241.55" width="1.8" height="1.8"/><rect x="118.83" y="241.56" width="1.8" height="1.8"/><rect x="121.84" y="241.66" width="1.8" height="1.8"/><rect x="124.85" y="241.77" width="1.8" height="1.8"/><rect x="127.87" y="241.4" width="1.8" height="1.8"/><rect x="129.38" y="240.8" width="1.8" height="1.8"/><rect x="132.39" y="240.76" width="1.8" height="1.8"/><rect x="133.9" y="240.16" width="1.8" height="1.8"/><rect x="136.91" y="241" width="1.8" height="1.8"/><rect x="138.42" y="240.38" width="1.8" height="1.8"/><rect x="139.92" y="239.58" width="1.8" height="1.8"/><rect x="142.94" y="239.79" width="1.8" height="1.8"/><rect x="145.95" y="237.43" width="1.8" height="3.56"/><rect x="147.46" y="236.44" width="1.8" height="1.8"/><rect x="151.98" y="237.84" width="1.8" height="1.8"/><rect x="153.49" y="237.24" width="1.8" height="1.8"/><rect x="156.5" y="237.18" width="1.8" height="1.8"/><rect x="161.02" y="239.1" width="1.8" height="1.8"/><rect x="164.04" y="239.67" width="1.8" height="1.8"/><rect x="167.05" y="239.83" width="1.8" height="1.8"/><rect x="170.06" y="242.92" width="1.8" height="1.8"/><rect x="171.57" y="241.05" width="1.8" height="2.47"/><rect x="173.08" y="240.38" width="1.8" height="1.8"/><rect x="174.59" y="239.9" width="1.8" height="1.8"/><rect x="179.11" y="242.09" width="1.8" height="1.8"/><rect x="182.12" y="236.12" width="1.8" height="7.16"/><rect x="185.13" y="237.77" width="1.8" height="1.8"/><rect x="186.64" y="237.17" width="1.8" height="1.8"/><rect x="188.15" y="236.74" width="1.8" height="1.8"/><rect x="189.66" y="235.69" width="1.8" height="1.8"/><rect x="191.16" y="234.97" width="1.8" height="1.8"/><rect x="192.67" y="228.9" width="1.8" height="6.67"/><rect x="194.18" y="221.19" width="1.8" height="8.31"/><rect x="195.68" y="218.78" width="1.8" height="3.01"/><rect x="198.7" y="222.15" width="1.8" height="1.8"/><rect x="200.2" y="220.93" width="1.8" height="1.83"/><rect x="201.71" y="220.33" width="1.8" height="1.8"/><rect x="206.23" y="221.26" width="1.8" height="1.8"/><rect x="207.74" y="220.66" width="1.8" height="1.8"/><rect x="209.25" y="216.11" width="1.8" height="5.15"/><rect x="210.75" y="215.38" width="1.8" height="1.8"/><rect x="216.78" y="218.45" width="1.8" height="1.8"/><rect x="218.29" y="214.98" width="1.8" height="4.07"/><rect x="219.8" y="211.96" width="1.8" height="3.62"/><rect x="222.81" y="216.01" width="1.8" height="2.29"/><rect x="224.32" y="214.55" width="1.8" height="2.06"/><rect x="225.82" y="213.95" width="1.8" height="1.8"/><rect x="231.85" y="222.9" width="1.8" height="4.7"/><rect x="234.87" y="226.66" width="1.8" height="1.8"/><rect x="236.37" y="224.59" width="1.8" height="2.67"/><rect x="237.88" y="224.06" width="1.8" height="1.8"/><rect x="239.39" y="223.46" width="1.8" height="1.8"/><rect x="243.91" y="224.96" width="1.8" height="1.91"/><rect x="245.41" y="223" width="1.8" height="2.56"/><rect x="249.94" y="228.67" width="1.8" height="2.27"/><rect x="251.44" y="226.74" width="1.8" height="2.53"/><rect x="255.96" y="229.05" width="1.8" height="4.84"/><rect x="257.47" y="228.22" width="1.8" height="1.8"/><rect x="258.98" y="226.57" width="1.8" height="2.24"/><rect x="260.48" y="223.25" width="1.8" height="3.92"/><rect x="261.99" y="220.58" width="1.8" height="3.27"/><rect x="263.5" y="215.01" width="1.8" height="6.17"/><rect x="265.01" y="207.66" width="1.8" height="7.95"/><rect x="266.51" y="195.94" width="1.8" height="12.32"/><rect x="268.02" y="195.34" width="1.8" height="1.8"/><rect x="274.05" y="199.51" width="1.8" height="1.8"/><rect x="275.55" y="197.36" width="1.8" height="2.75"/><rect x="277.06" y="195.63" width="1.8" height="2.33"/><rect x="283.09" y="197.59" width="1.8" height="1.8"/><rect x="284.6" y="196.84" width="1.8" height="1.8"/><rect x="287.61" y="196.56" width="1.8" height="1.8"/><rect x="290.62" y="201.05" width="1.8" height="3.38"/><rect x="292.13" y="198.54" width="1.8" height="3.11"/><rect x="293.64" y="196.26" width="1.8" height="2.88"/><rect x="296.65" y="200.08" width="1.8" height="1.8"/><rect x="298.16" y="198.71" width="1.8" height="1.98"/><rect x="299.67" y="197.98" width="1.8" height="1.8"/><rect x="307.2" y="203.42" width="1.8" height="4.12"/><rect x="313.23" y="204.62" width="1.8" height="1.8"/><rect x="314.74" y="202.52" width="1.8" height="2.69"/><rect x="316.24" y="201.92" width="1.8" height="1.8"/><rect x="317.75" y="199.61" width="1.8" height="2.91"/><rect x="325.29" y="204.24" width="1.8" height="1.93"/><rect x="326.79" y="193.28" width="1.8" height="11.56"/><rect x="328.3" y="190.1" width="1.8" height="3.77"/><rect x="332.82" y="193.48" width="1.8" height="1.9"/><rect x="334.33" y="191.96" width="1.8" height="2.12"/><rect x="335.83" y="189.49" width="1.8" height="3.07"/><rect x="341.86" y="193.45" width="1.8" height="3.54"/><rect x="346.38" y="194.05" width="1.8" height="1.8"/><rect x="347.89" y="192.3" width="1.8" height="2.36"/><rect x="352.41" y="197.36" width="1.8" height="1.8"/><rect x="353.92" y="196.41" width="1.8" height="1.8"/><rect x="356.93" y="194.38" width="1.8" height="3.23"/><rect x="358.44" y="192.32" width="1.8" height="2.66"/><rect x="359.95" y="190.59" width="1.8" height="2.33"/><rect x="361.45" y="189.23" width="1.8" height="1.96"/><rect x="362.96" y="183.16" width="1.8" height="6.67"/><rect x="364.47" y="182.56" width="1.8" height="1.8"/><rect x="367.48" y="184.49" width="1.8" height="1.8"/><rect x="368.99" y="183" width="1.8" height="2.09"/><rect x="370.5" y="180.76" width="1.8" height="2.85"/><rect x="376.52" y="185.79" width="1.8" height="1.8"/><rect x="378.03" y="185.04" width="1.8" height="1.8"/><rect x="381.04" y="185.01" width="1.8" height="1.8"/><rect x="385.57" y="186.54" width="1.8" height="1.85"/><rect x="388.58" y="186.68" width="1.8" height="1.86"/><rect x="390.09" y="186.08" width="1.8" height="1.8"/><rect x="391.59" y="185.48" width="1.8" height="1.8"/><rect x="397.62" y="186.77" width="1.8" height="2.25"/><rect x="399.13" y="186.04" width="1.8" height="1.8"/><rect x="400.64" y="185.48" width="1.8" height="1.8"/><rect x="402.14" y="183.91" width="1.8" height="2.17"/><rect x="403.65" y="179.83" width="1.8" height="4.69"/><rect x="405.16" y="179.38" width="1.8" height="1.8"/><rect x="409.68" y="180.15" width="1.8" height="1.91"/><rect x="420.23" y="197.72" width="1.8" height="1.8"/><rect x="421.73" y="197.12" width="1.8" height="1.8"/><rect x="423.24" y="196.65" width="1.8" height="1.8"/><rect x="429.27" y="198.07" width="1.8" height="1.8"/><rect x="436.8" y="204.05" width="1.8" height="2.42"/><rect x="438.31" y="201.62" width="1.8" height="3.03"/><rect x="441.32" y="202.13" width="1.8" height="1.8"/><rect x="442.83" y="201.73" width="1.8" height="1.8"/><rect x="444.34" y="199.8" width="1.8" height="2.53"/><rect x="448.86" y="204.6" width="1.8" height="2.2"/><rect x="450.37" y="201.19" width="1.8" height="4.02"/><rect x="453.38" y="201.64" width="1.8" height="1.8"/><rect x="457.9" y="203.67" width="1.8" height="1.8"/><rect x="463.93" y="206.07" width="1.8" height="1.8"/><rect x="465.44" y="204.68" width="1.8" height="1.99"/><rect x="466.94" y="203.39" width="1.8" height="1.89"/><rect x="468.45" y="200.83" width="1.8" height="3.15"/><rect x="469.96" y="195.55" width="1.8" height="5.88"/><rect x="471.46" y="191.63" width="1.8" height="4.51"/><rect x="472.97" y="190.69" width="1.8" height="1.8"/><rect x="477.49" y="182.89" width="1.8" height="10.51"/><rect x="479" y="182.36" width="1.8" height="1.8"/><rect x="483.52" y="169.74" width="1.8" height="14.43"/><rect x="489.55" y="170.95" width="1.8" height="2.96"/><rect x="495.58" y="170.26" width="1.8" height="4.03"/><rect x="497.08" y="169.1" width="1.8" height="1.8"/><rect x="501.6" y="170.37" width="1.8" height="1.8"/><rect x="504.62" y="162.43" width="1.8" height="9.7"/><rect x="506.13" y="160.77" width="1.8" height="2.26"/><rect x="515.17" y="172.8" width="1.8" height="2.94"/><rect x="519.69" y="173.02" width="1.8" height="3.11"/><rect x="521.2" y="169.74" width="1.8" height="3.87"/><rect x="533.25" y="175.24" width="1.8" height="2.29"/><rect x="536.27" y="174.8" width="1.8" height="1.8"/><rect x="537.77" y="172.64" width="1.8" height="2.75"/><rect x="539.28" y="172.04" width="1.8" height="1.8"/><rect x="542.29" y="172.49" width="1.8" height="2.64"/></g>
<g fill="#f23645"><rect x="6.2" y="227.93" width="1" height="7.47"/><rect x="12.23" y="228.08" width="1" height="3.45"/><rect x="15.24" y="228.49" width="1" height="2.46"/><rect x="16.75" y="230.25" width="1" height="2.8"/><rect x="18.26" y="230.77" width="1" height="3.91"/><rect x="25.79" y="221.75" width="1" height="1"/><rect x="27.3" y="222.58" width="1" height="4.92"/><rect x="28.81" y="225.21" width="1" height="4.07"/><rect x="33.33" y="225.65" width="1" height="2.67"/><rect x="34.83" y="226.24" width="1" height="5.74"/><rect x="42.37" y="221.21" width="1" height="8.82"/><rect x="43.88" y="228.54" width="1" height="5.15"/><rect x="48.4" y="227.64" width="1" height="2.34"/><rect x="52.92" y="225.14" width="1" height="4.03"/><rect x="54.43" y="226.58" width="1" height="14.62"/><rect x="55.93" y="238.83" width="1" height="6.18"/><rect x="57.44" y="243.04" width="1" height="2.79"/><rect x="58.95" y="245.08" width="1" height="1.81"/><rect x="63.47" y="242.42" width="1" height="0.99"/><rect x="64.97" y="242.68" width="1" height="4.91"/><rect x="67.99" y="244.35" width="1" height="5.79"/><rect x="69.5" y="246.55" width="1" height="2.46"/><rect x="71" y="248.45" width="1" height="4.05"/><rect x="78.54" y="238.68" width="1" height="6.58"/><rect x="83.06" y="240.25" width="1" height="4.21"/><rect x="87.58" y="239.66" width="1" height="5.75"/><rect x="89.09" y="239.3" width="1" height="6.46"/><rect x="90.59" y="243.82" width="1" height="3.46"/><rect x="101.14" y="236.91" width="1" height="6.08"/><rect x="102.65" y="241.01" width="1" height="2.6"/><rect x="107.17" y="239.55" width="1" height="6.13"/><rect x="111.69" y="241.58" width="1" height="2.05"/><rect x="114.71" y="241.83" width="1" height="1.92"/><rect x="117.72" y="239.6" width="1" height="4.16"/><rect x="120.73" y="240.58" width="1" height="2.14"/><rect x="123.75" y="241.73" width="1" height="2.35"/><rect x="126.76" y="240.87" width="1" height="2.82"/><rect x="131.28" y="240.02" width="1" height="2.57"/><rect x="135.8" y="240.37" width="1" height="3.06"/><rect x="141.83" y="238.81" width="1" height="3.63"/><rect x="144.85" y="238.93" width="1" height="2.11"/><rect x="149.37" y="236.39" width="1" height="2.5"/><rect x="150.87" y="236.38" width="1" height="2.5"/><rect x="155.39" y="236.99" width="1" height="1.25"/><rect x="158.41" y="236.61" width="1" height="2.54"/><rect x="159.92" y="237.85" width="1" height="2.95"/><rect x="162.93" y="239.05" width="1" height="2.12"/><rect x="165.94" y="238.53" width="1" height="3.72"/><rect x="168.96" y="239.08" width="1" height="5.16"/><rect x="176.49" y="239.85" width="1" height="3.66"/><rect x="178" y="242" width="1" height="1.07"/><rect x="181.01" y="239.62" width="1" height="3.81"/><rect x="184.03" y="235.82" width="1" height="3.89"/><rect x="197.59" y="217.59" width="1" height="5.61"/><rect x="203.62" y="219.6" width="1" height="2.27"/><rect x="205.13" y="220.21" width="1" height="2.09"/><rect x="212.66" y="214.37" width="1" height="4.14"/><rect x="214.17" y="217.2" width="1" height="2.12"/><rect x="215.67" y="216.44" width="1" height="2.97"/><rect x="221.7" y="211.47" width="1" height="7.85"/><rect x="227.73" y="214.17" width="1" height="2.43"/><rect x="229.24" y="215.5" width="1" height="7.38"/><rect x="230.74" y="220.74" width="1" height="9.83"/><rect x="233.76" y="223.03" width="1" height="6.26"/><rect x="241.29" y="222.43" width="1" height="3.68"/><rect x="242.8" y="225.34" width="1" height="1.72"/><rect x="247.32" y="223.2" width="1" height="5.3"/><rect x="248.83" y="227.3" width="1" height="4.88"/><rect x="253.35" y="226.79" width="1" height="5.49"/><rect x="254.86" y="231.18" width="1" height="2.43"/><rect x="269.93" y="195.5" width="1" height="3.76"/><rect x="271.43" y="195.72" width="1" height="5.11"/><rect x="272.94" y="198.05" width="1" height="4.22"/><rect x="278.97" y="195.37" width="1" height="1.44"/><rect x="280.48" y="195.95" width="1" height="3.06"/><rect x="281.98" y="197.02" width="1" height="3.08"/><rect x="286.5" y="196.65" width="1" height="3.65"/><rect x="289.52" y="195.94" width="1" height="10.46"/><rect x="295.55" y="196.34" width="1" height="5.61"/><rect x="301.57" y="195.47" width="1" height="7.11"/><rect x="303.08" y="201.41" width="1" height="3.37"/><rect x="304.59" y="203.96" width="1" height="3.59"/><rect x="306.09" y="205.06" width="1" height="2.2"/><rect x="309.11" y="202.83" width="1" height="1.65"/><rect x="310.62" y="202.53" width="1" height="2.65"/><rect x="312.12" y="204.62" width="1" height="3.2"/><rect x="319.66" y="198.34" width="1" height="2.41"/><rect x="321.16" y="200.24" width="1" height="2.66"/><rect x="322.67" y="200.88" width="1" height="2.68"/><rect x="324.18" y="200.76" width="1" height="7.07"/><rect x="330.21" y="189.05" width="1" height="4.33"/><rect x="331.71" y="189.94" width="1" height="5.37"/><rect x="337.74" y="184.3" width="1" height="7.23"/><rect x="339.25" y="189.86" width="1" height="9.07"/><rect x="340.76" y="195.89" width="1" height="2.04"/><rect x="343.77" y="193.1" width="1" height="1.36"/><rect x="345.28" y="192.34" width="1" height="4.2"/><rect x="349.8" y="190.86" width="1" height="5.18"/><rect x="351.3" y="194.93" width="1" height="3.95"/><rect x="355.83" y="195.33" width="1" height="3.73"/><rect x="366.37" y="182.36" width="1" height="3.96"/><rect x="372.4" y="180.81" width="1" height="3.03"/><rect x="373.91" y="180.77" width="1" height="4.92"/><rect x="375.42" y="184.53" width="1" height="2.99"/><rect x="379.94" y="185.11" width="1" height="2.32"/><rect x="382.95" y="184.61" width="1" height="2.98"/><rect x="384.46" y="187.2" width="1" height="1.33"/><rect x="387.47" y="184.19" width="1" height="6.43"/><rect x="393.5" y="185.47" width="1" height="1.94"/><rect x="395.01" y="185.83" width="1" height="2.13"/><rect x="396.51" y="187.2" width="1" height="2.38"/><rect x="407.06" y="179.11" width="1" height="1.67"/><rect x="408.57" y="177.86" width="1" height="5.28"/><rect x="411.58" y="179.94" width="1" height="5.76"/><rect x="413.09" y="181.48" width="1" height="3.58"/><rect x="414.6" y="183.66" width="1" height="5.66"/><rect x="416.11" y="188.78" width="1" height="10.25"/><rect x="417.61" y="196.35" width="1" height="1.74"/><rect x="419.12" y="197.71" width="1" height="1.66"/><rect x="425.15" y="195.95" width="1" height="1.89"/><rect x="426.65" y="196.77" width="1" height="2.26"/><rect x="428.16" y="196.92" width="1" height="2.08"/><rect x="431.18" y="196.4" width="1" height="7.28"/><rect x="432.68" y="201.67" width="1" height="2.73"/><rect x="434.19" y="201.99" width="1" height="2.73"/><rect x="435.7" y="204.14" width="1" height="2.31"/><rect x="440.22" y="200.84" width="1" height="3.07"/><rect x="446.25" y="198.47" width="1" height="5.48"/><rect x="447.75" y="202.22" width="1" height="5.11"/><rect x="452.27" y="201.03" width="1" height="1.92"/><rect x="455.29" y="201.92" width="1" height="2.04"/><rect x="456.79" y="202.43" width="1" height="3.24"/><rect x="459.81" y="202.4" width="1" height="4.47"/><rect x="461.32" y="205.84" width="1" height="1.1"/><rect x="462.82" y="206.65" width="1" height="2.82"/><rect x="474.88" y="189.04" width="1" height="2.74"/><rect x="476.39" y="190.56" width="1" height="5.73"/><rect x="480.91" y="182.64" width="1" height="1.33"/><rect x="482.41" y="183" width="1" height="1.48"/><rect x="485.43" y="168.99" width="1" height="3.28"/><rect x="486.93" y="171.93" width="1" height="1.79"/><rect x="488.44" y="171.98" width="1" height="3.93"/><rect x="491.46" y="170.51" width="1" height="2.68"/><rect x="492.96" y="170.85" width="1" height="3.07"/><rect x="494.47" y="171.69" width="1" height="2.36"/><rect x="498.99" y="168.7" width="1" height="1.75"/><rect x="500.5" y="168.06" width="1" height="3.87"/><rect x="503.51" y="170.64" width="1" height="1.25"/><rect x="508.03" y="160.82" width="1" height="5.21"/><rect x="509.54" y="163.17" width="1" height="4.06"/><rect x="511.05" y="166.96" width="1" height="2.42"/><rect x="512.55" y="167.34" width="1" height="9.16"/><rect x="514.06" y="173.02" width="1" height="4.53"/><rect x="517.07" y="171.65" width="1" height="4.56"/><rect x="518.58" y="174.68" width="1" height="1.33"/><rect x="523.1" y="169.75" width="1" height="1.1"/><rect x="524.61" y="170.61" width="1" height="1.05"/><rect x="526.12" y="169.73" width="1" height="3.53"/><rect x="527.62" y="172.63" width="1" height="2.67"/><rect x="529.13" y="172.36" width="1" height="3.83"/><rect x="530.64" y="174.11" width="1" height="3.07"/><rect x="532.14" y="174.63" width="1" height="3.95"/><rect x="535.16" y="175.47" width="1" height="1.98"/><rect x="541.19" y="170.4" width="1" height="5.27"/><rect x="544.2" y="172.28" width="1" height="7.8"/><rect x="5.8" y="227.91" width="1.8" height="7.23"/><rect x="11.83" y="228.58" width="1.8" height="1.8"/><rect x="14.84" y="228.58" width="1.8" height="2.51"/><rect x="16.35" y="230.48" width="1.8" height="1.8"/><rect x="17.86" y="231.6" width="1.8" height="2.7"/><rect x="25.39" y="221.79" width="1.8" height="1.8"/><rect x="26.9" y="222.42" width="1.8" height="3.81"/><rect x="28.41" y="225.63" width="1.8" height="2.24"/><rect x="32.93" y="225.87" width="1.8" height="1.8"/><rect x="34.43" y="226.37" width="1.8" height="5.02"/><rect x="41.97" y="222.35" width="1.8" height="7.5"/><rect x="43.48" y="229.25" width="1.8" height="2.57"/><rect x="48" y="228.94" width="1.8" height="1.8"/><rect x="52.52" y="226.5" width="1.8" height="2.81"/><rect x="54.03" y="228.71" width="1.8" height="11.93"/><rect x="55.53" y="240.04" width="1.8" height="3.75"/><rect x="57.04" y="243.19" width="1.8" height="2.6"/><rect x="58.55" y="245.19" width="1.8" height="1.83"/><rect x="63.07" y="242.3" width="1.8" height="1.8"/><rect x="64.57" y="242.9" width="1.8" height="4.55"/><rect x="67.59" y="246.26" width="1.8" height="1.8"/><rect x="69.1" y="246.76" width="1.8" height="2.51"/><rect x="70.6" y="248.67" width="1.8" height="2.49"/><rect x="78.14" y="239.4" width="1.8" height="4.36"/><rect x="82.66" y="240.77" width="1.8" height="2.2"/><rect x="87.18" y="240.42" width="1.8" height="2.48"/><rect x="88.69" y="242.29" width="1.8" height="2.39"/><rect x="90.19" y="244.08" width="1.8" height="2.86"/><rect x="100.74" y="238.98" width="1.8" height="2.63"/><rect x="102.25" y="241.01" width="1.8" height="2.35"/><rect x="106.77" y="240.14" width="1.8" height="4.61"/><rect x="111.29" y="241.66" width="1.8" height="1.8"/><rect x="114.31" y="241.6" width="1.8" height="1.8"/><rect x="117.32" y="241.55" width="1.8" height="1.8"/><rect x="120.33" y="241.56" width="1.8" height="1.8"/><rect x="123.35" y="241.66" width="1.8" height="1.8"/><rect x="126.36" y="241.77" width="1.8" height="1.8"/><rect x="130.88" y="240.8" width="1.8" height="1.8"/><rect x="135.4" y="240.16" width="1.8" height="2.04"/><rect x="141.43" y="239.58" width="1.8" height="1.8"/><rect x="144.45" y="239.79" width="1.8" height="1.8"/><rect x="148.97" y="236.44" width="1.8" height="1.8"/><rect x="150.47" y="237.59" width="1.8" height="1.8"/><rect x="154.99" y="237.24" width="1.8" height="1.8"/><rect x="158.01" y="237.18" width="1.8" height="1.8"/><rect x="159.52" y="237.94" width="1.8" height="2.32"/><rect x="162.53" y="239.1" width="1.8" height="2.15"/><rect x="165.54" y="239.67" width="1.8" height="1.8"/><rect x="168.56" y="239.83" width="1.8" height="4.4"/><rect x="176.09" y="239.9" width="1.8" height="2.54"/><rect x="177.6" y="241.83" width="1.8" height="1.8"/><rect x="180.61" y="242.09" width="1.8" height="1.8"/><rect x="183.63" y="236.12" width="1.8" height="2.85"/><rect x="197.19" y="218.78" width="1.8" height="4.47"/><rect x="203.22" y="220.33" width="1.8" height="1.8"/><rect x="204.73" y="220.93" width="1.8" height="1.8"/><rect x="212.26" y="215.38" width="1.8" height="2.37"/><rect x="213.77" y="217.15" width="1.8" height="1.87"/><rect x="215.27" y="218.42" width="1.8" height="1.8"/><rect x="221.3" y="211.96" width="1.8" height="6.34"/><rect x="227.33" y="213.95" width="1.8" height="2.04"/><rect x="228.84" y="215.39" width="1.8" height="5.86"/><rect x="230.34" y="220.65" width="1.8" height="6.96"/><rect x="233.36" y="222.9" width="1.8" height="5.03"/><rect x="240.89" y="223.46" width="1.8" height="2.81"/><rect x="242.4" y="225.67" width="1.8" height="1.8"/><rect x="246.92" y="223" width="1.8" height="4.98"/><rect x="248.43" y="227.38" width="1.8" height="3.56"/><rect x="252.95" y="226.74" width="1.8" height="5.01"/><rect x="254.46" y="231.15" width="1.8" height="2.74"/><rect x="269.53" y="195.34" width="1.8" height="2.79"/><rect x="271.03" y="197.52" width="1.8" height="1.8"/><rect x="272.54" y="198.4" width="1.8" height="2.61"/><rect x="278.57" y="195.63" width="1.8" height="1.8"/><rect x="280.08" y="196.23" width="1.8" height="1.8"/><rect x="281.58" y="196.83" width="1.8" height="1.82"/><rect x="286.1" y="196.84" width="1.8" height="1.8"/><rect x="289.12" y="196.56" width="1.8" height="7.87"/><rect x="295.15" y="196.26" width="1.8" height="5.62"/><rect x="301.17" y="197.98" width="1.8" height="3.91"/><rect x="302.68" y="201.29" width="1.8" height="3.61"/><rect x="304.19" y="204.3" width="1.8" height="1.8"/><rect x="305.69" y="204.78" width="1.8" height="2.77"/><rect x="308.71" y="203.42" width="1.8" height="1.8"/><rect x="310.22" y="204.03" width="1.8" height="1.8"/><rect x="311.72" y="204.63" width="1.8" height="1.8"/><rect x="319.26" y="199.61" width="1.8" height="1.8"/><rect x="320.76" y="200.21" width="1.8" height="1.8"/><rect x="322.27" y="201" width="1.8" height="1.8"/><rect x="323.78" y="202" width="1.8" height="4.17"/><rect x="329.81" y="190.1" width="1.8" height="1.8"/><rect x="331.31" y="190.7" width="1.8" height="4.67"/><rect x="337.34" y="189.49" width="1.8" height="1.8"/><rect x="338.85" y="190.39" width="1.8" height="6.01"/><rect x="340.36" y="195.79" width="1.8" height="1.8"/><rect x="343.37" y="193.45" width="1.8" height="1.8"/><rect x="344.88" y="194.05" width="1.8" height="1.8"/><rect x="349.4" y="192.3" width="1.8" height="3.69"/><rect x="350.9" y="195.39" width="1.8" height="3.03"/><rect x="355.43" y="196.41" width="1.8" height="1.8"/><rect x="365.97" y="182.56" width="1.8" height="3.24"/><rect x="372" y="180.76" width="1.8" height="3.29"/><rect x="373.51" y="183.45" width="1.8" height="2.08"/><rect x="375.02" y="184.92" width="1.8" height="2.3"/><rect x="379.54" y="185.04" width="1.8" height="1.8"/><rect x="382.55" y="185.01" width="1.8" height="2.5"/><rect x="384.06" y="186.91" width="1.8" height="1.8"/><rect x="387.07" y="186.54" width="1.8" height="2"/><rect x="393.1" y="185.48" width="1.8" height="1.8"/><rect x="394.61" y="186.59" width="1.8" height="1.8"/><rect x="396.11" y="187.19" width="1.8" height="1.84"/><rect x="406.66" y="179.38" width="1.8" height="1.8"/><rect x="408.17" y="179.96" width="1.8" height="2.1"/><rect x="411.18" y="180.15" width="1.8" height="3"/><rect x="412.69" y="182.55" width="1.8" height="1.86"/><rect x="414.2" y="183.81" width="1.8" height="5.32"/><rect x="415.71" y="188.53" width="1.8" height="9.18"/><rect x="417.21" y="197.12" width="1.8" height="1.8"/><rect x="418.72" y="197.72" width="1.8" height="1.8"/><rect x="424.75" y="196.65" width="1.8" height="1.8"/><rect x="426.25" y="197.25" width="1.8" height="1.8"/><rect x="427.76" y="197.76" width="1.8" height="1.8"/><rect x="430.78" y="198.07" width="1.8" height="4.89"/><rect x="432.28" y="202.36" width="1.8" height="1.8"/><rect x="433.79" y="203.2" width="1.8" height="1.8"/><rect x="435.3" y="204.28" width="1.8" height="2.19"/><rect x="439.82" y="201.62" width="1.8" height="1.8"/><rect x="445.85" y="199.8" width="1.8" height="2.91"/><rect x="447.35" y="202.11" width="1.8" height="4.69"/><rect x="451.87" y="201.19" width="1.8" height="1.8"/><rect x="454.89" y="201.64" width="1.8" height="2.29"/><rect x="456.39" y="203.33" width="1.8" height="1.8"/><rect x="459.41" y="203.67" width="1.8" height="2.71"/><rect x="460.92" y="205.78" width="1.8" height="1.8"/><rect x="462.42" y="206.54" width="1.8" height="1.8"/><rect x="474.48" y="190.69" width="1.8" height="1.8"/><rect x="475.99" y="191.44" width="1.8" height="1.96"/><rect x="480.51" y="182.36" width="1.8" height="1.8"/><rect x="482.01" y="182.96" width="1.8" height="1.8"/><rect x="485.03" y="169.74" width="1.8" height="2.79"/><rect x="486.53" y="171.93" width="1.8" height="1.8"/><rect x="488.04" y="172.77" width="1.8" height="1.8"/><rect x="491.06" y="170.95" width="1.8" height="1.8"/><rect x="492.56" y="172.03" width="1.8" height="1.8"/><rect x="494.07" y="173.08" width="1.8" height="1.8"/><rect x="498.59" y="169.1" width="1.8" height="1.8"/><rect x="500.1" y="169.88" width="1.8" height="1.8"/><rect x="503.11" y="170.37" width="1.8" height="1.8"/><rect x="507.63" y="160.77" width="1.8" height="3.83"/><rect x="509.14" y="164" width="1.8" height="3.52"/><rect x="510.65" y="166.92" width="1.8" height="1.8"/><rect x="512.15" y="167.52" width="1.8" height="7.67"/><rect x="513.66" y="174.59" width="1.8" height="1.8"/><rect x="516.67" y="172.8" width="1.8" height="2.2"/><rect x="518.18" y="174.4" width="1.8" height="1.8"/><rect x="522.7" y="169.74" width="1.8" height="1.8"/><rect x="524.21" y="170.34" width="1.8" height="1.8"/><rect x="525.72" y="170.94" width="1.8" height="2.5"/><rect x="527.22" y="172.85" width="1.8" height="1.8"/><rect x="528.73" y="173.45" width="1.8" height="1.8"/><rect x="530.24" y="174.18" width="1.8" height="2.36"/><rect x="531.74" y="175.94" width="1.8" height="1.8"/><rect x="534.76" y="175.24" width="1.8" height="1.8"/><rect x="540.79" y="172.04" width="1.8" height="3.09"/><rect x="543.8" y="172.49" width="1.8" height="5.47"/></g>
<g transform="scale(2.7014,1)" stroke="#2962ff" stroke-width="1.2" fill="none" stroke-linecap="round" stroke-linejoin="round">
<polyline points="175.35,173.3 208.41,184.2"/>
<polyline stroke-width="1.35" points="195.6,189 208.41,184.2 202.34,173.8"/>
<polyline stroke-width="1.6" points="208.26,184 219.03,126.6"/>
<polyline stroke-width="1.4" points="208.11,132.8 219.03,126.4 226.88,135.2"/>
</g>
<ellipse cx="544.7" cy="352.25" rx="24.4" ry="7.5" fill="#fff" stroke="none"/>
<g transform="scale(2.7014,1)"><ellipse cx="201.64" cy="352.25" rx="9.11" ry="7.55" fill="#fff" stroke="#673ab7" stroke-width="1.25"/></g>
<polygon points="552,347.9 534.3,352.7 543.2,352.7 537,356.9 554.6,351.6 545.6,351.6" fill="#673ab7"/>
<g clip-path="url(#cpRsi)"><g transform="scale(2.7014,1)" fill="none" stroke-linejoin="miter" stroke-miterlimit="3" stroke-linecap="butt">
<polyline stroke="#7e57c2" stroke-width="0.95" points="0,469.3 0.78,462.9 1.59,437.1 2.37,432.8 3.59,418.9 4.37,422.1 4.78,418.9 5.96,418.2 6.37,443.5 7.14,447.8 7.96,424.2 8.96,402.8 9.92,419.9 11.92,426.4 13.1,452.1 14.29,423.2 15.47,452.1 16.29,457.5 17.88,447.8 18.84,437 19.47,464.5 20.25,489.9 21.06,505 21.69,509.7 22.65,492.1 23.28,482.4 23.84,495.3 25.02,495.3 25.8,506 26.62,496.4 27.17,466.3 27.8,455.2 28.61,470 29.54,458.7 31.39,458.4 32.17,462.4 32.95,473.7 34.17,479.3 35.17,471 36.87,444.2 37.72,456 38.54,445.8 39.72,469.4 40.5,452.2 41.46,445.5 42.42,458.2 44.09,448 44.87,452.2 45.68,447.6 46.46,456 47.49,458.8 48.46,455.6 49.31,441 50.12,439.4 50.57,448 51.45,424.2 52.42,435 53.23,422.1 54.79,406 55.6,415.6 56.79,421 57.6,413.5 58.38,410.3 58.78,434.5 60.04,460.3 60.78,453.9 61.56,460.3 62.38,486.7 63,497.5 64.19,466.7 64.97,461.4 65.93,474.2 66.56,489.9 67.22,450.6 67.52,425.3 68.3,435 69.52,419.9 70.3,424.2 71.11,404.9 71.78,352 72.67,352 73.48,383 73.74,373 75.52,377.5 76.18,388 76.59,396.5 77.52,381.5 78.22,371.7 79.03,404.9 80.25,398.5 81.07,389.9 82.66,413.5 83.44,408.1 84.62,432.8 85.44,465.6 86.21,470 87.03,485.6 87.95,461.5 89.4,473.2 90.18,464.2 90.84,441.5 91.62,483.5 92.58,476 93.36,482.4 94.4,495.3 95.14,474.9 95.43,451.2 95.91,462.5 96.95,432.8 97.73,413.5 98.54,392 99.06,374.5 99.87,390 100.73,398.4 101.69,393.2 103.28,392.4 104.09,394.2 104.87,409.2 105.69,396.3 106.46,411.4 107.02,449.6 107.68,435 108.61,419.9 109.65,447.9 111.24,436.1 111.65,453.3 112.42,453.3 113.24,463 114.01,454.4 114.98,464 115.75,455.2 117.05,453.9 118.01,431.7 118.94,450.1 119.75,446.9 120.53,467.3 121.57,416.7 122.38,412.4 123.16,430.7 123.71,417.8 124.53,421 125.53,443.6 126.34,436.1 127.12,445.8 128.16,432.8 129.12,436.7 130.3,465.1 131.34,458.8 131.89,447 133.08,430.7 134.04,404.9 134.52,428.5 135.49,409.2 136.67,407.1 137.45,401.7 138.26,408.1 138.82,430.7 139.85,435 140.63,429.6 141.82,439.4 143.04,444.7 143.85,450.5 144.63,435 145.44,438.2 146.41,433.9 147.41,456.4 148.37,430.7 149.26,425.3 150.22,394.2 151,426.4 151.4,423.2 152.18,428.5 152.99,451.7 153.55,509.3 154.33,503.9 155.36,511.4 155.77,496.4 156.96,497.5 157.73,501.7 159.1,507.1 160.14,526.4 161.32,526.4 162.1,507.1 162.92,496.4 163.69,497.5 164.51,474.8 165.28,494.2 165.91,502.8 166.25,473.7 167.02,472.6 167.51,479.2 168.88,485.6 169.91,477 170.84,495.3 172.06,481 172.84,468.5 173.47,459.9 173.65,419.9 174.43,394.2 175.32,426.4 176.02,417.8 177.06,386.7 177.83,394.2 178.94,368.4 179.61,375.9 179.98,389.9 180.8,387.3 181.83,388.8 182.61,399.6 183.57,389.9 184.2,387.8 184.76,394.2 185.31,410.3 186.35,409.2 187.13,380.2 187.94,407.1 188.72,428.5 189.53,428.5 189.9,451.1 190.86,446.8 191.49,452.1 192.31,454.3 193.09,437.1 193.71,435 194.68,446.8 195.31,447.8 196.27,462.9 197.08,472.5 197.86,456.4 198.67,465 199.6,446.8 200.41,455.3 201.19,452.1 201.45,471.4"/>
<polyline stroke="#ffeb3b" stroke-width="0.8" stroke-linejoin="round" points="0,454.3 2,457.8 3.96,453.3 5.96,440.5 7.96,429.6 9.92,424.7 11.51,424.7 13.51,429 14.7,428.1 16.7,433.5 19.06,445.3 21.43,458.5 22.65,470.6 24.62,482.4 26.62,492.1 27.39,493.8 29.39,483.5 31.76,473 34.17,466.2 37.35,464.6 39.72,462.4 42.9,456.2 47.68,454 51.64,448.5 54.79,436.7 56.79,425.3 58.78,419.9 61.15,426.4 62.75,441 64.34,456 65.93,465.6 67.11,471 68.3,468.9 69.89,460.3 71.48,443 72.7,424.2 74.29,400.6 76.29,389.9 78.66,380.2 80.66,385.6 83.03,394.2 85.03,404.9 87.03,424.2 88.99,443.5 90.99,458.6 92.99,468.2 95.14,471.4 96.95,468.2 98.54,456.4 100.13,440.3 101.73,419.9 103.69,401.7 105.28,395.3 106.87,398.5 108.46,409.2 110.46,418.9 112.42,432.8 114.83,445.7 117.2,451.7 119.97,452.1 121.97,445.7 124.34,436 126.34,433.9 128.71,430.7 130.71,438.2 132.71,443.5 134.67,440.3 137.08,430.7 139.04,421 140.63,419.5 142.67,425.3 144.63,433.9 146.63,439.3 148.63,441.4 150.22,436 152.18,430.2 153.77,438.2 155.36,451.3 157.36,466.5 158.55,483.5 160.14,500.7 161.47,508.8 163.69,507.1 166.1,503.9 168.06,492.1 170.47,485.6 172.84,483.5 174.84,470 176.43,452.8 178.39,432.8 179.98,409.2 181.35,397.4 182.76,393.1 184.2,388.8 185.94,392 187.94,397.4 189.9,407.1 191.9,419.9 193.9,430.7 195.49,441.4 197.08,450 199.04,453.2 200.64,453.8 201.67,455.3"/>
</g>
<path d="M624,455.4 L636,440 Q637.9,437.6 640.6,439.3 L645,441.7 L760,410.9 L760,416.2 L668.2,448.5 L678.1,451.3 Z" fill="#2b55e3"/>
</g>
<text transform="rotate(0.02 19.6 16)" y="16" font-size="10.2" font-weight="bold" stroke="#131722" stroke-width="0.1"><tspan x="19.6" textLength="91" lengthAdjust="spacingAndGlyphs" y="16">Bitcoin</tspan> <tspan x="124" textLength="13" lengthAdjust="spacingAndGlyphs" font-weight="normal" font-size="12.5" y="17.4" stroke-width="0">/</tspan> <tspan x="146.2" textLength="125" lengthAdjust="spacingAndGlyphs" y="16">TetherUS</tspan> <tspan x="279.1" textLength="11" lengthAdjust="spacingAndGlyphs" y="16">·</tspan> <tspan x="298.8" textLength="31.6" lengthAdjust="spacingAndGlyphs" y="16">1h</tspan> <tspan x="339.5" textLength="11" lengthAdjust="spacingAndGlyphs" y="16">·</tspan> <tspan x="356.6" textLength="108.3" lengthAdjust="spacingAndGlyphs" y="16">Binance</tspan></text>
<text transform="rotate(0.02 19.6 29.4)" y="29.4" font-size="10.2"><tspan x="19.6" textLength="38" lengthAdjust="spacingAndGlyphs" y="29.4">Vol</tspan> <tspan x="70.6" textLength="8.6" lengthAdjust="spacingAndGlyphs" y="29.4">·</tspan> <tspan x="87.6" textLength="49.3" lengthAdjust="spacingAndGlyphs" y="29.4">BTC</tspan></text>
<text transform="rotate(0.02 19.6 379.2)" y="379.2" font-size="10.6"><tspan x="19.6" textLength="40.7" lengthAdjust="spacingAndGlyphs" y="379.2">RSI</tspan> <tspan x="69.6" textLength="51.4" lengthAdjust="spacingAndGlyphs" y="379.2">(14,</tspan> <tspan x="129.8" textLength="76.7" lengthAdjust="spacingAndGlyphs" y="379.2">close,</tspan> <tspan x="213.6" textLength="73.4" lengthAdjust="spacingAndGlyphs" y="379.2">SMA,</tspan> <tspan x="295.5" textLength="40.5" lengthAdjust="spacingAndGlyphs" y="379.2">14,</tspan> <tspan x="344.8" textLength="27.7" lengthAdjust="spacingAndGlyphs" y="379.2">2)</tspan></text>
<rect x="767.2" y="3.2" width="156" height="19.6" rx="7" ry="3.5" fill="#fff" stroke="#f0f1f4" stroke-width="1"/>
<text transform="rotate(0.03 789.6 16.1)" x="789.6" y="16.1" font-size="10.2" textLength="71.6" lengthAdjust="spacingAndGlyphs">USDT</text>
<text transform="rotate(0.03 780.3 47)" x="780.3" y="47" font-size="10.2" textLength="127.3" lengthAdjust="spacingAndGlyphs">88,000.00</text>
<text transform="rotate(0.03 780.3 84.58)" x="780.3" y="84.58" font-size="10.2" textLength="127.3" lengthAdjust="spacingAndGlyphs">84,000.00</text>
<text transform="rotate(0.03 780.3 122.15)" x="780.3" y="122.15" font-size="10.2" textLength="127.3" lengthAdjust="spacingAndGlyphs">80,000.00</text>
<text transform="rotate(0.03 780.3 159.73)" x="780.3" y="159.73" font-size="10.2" textLength="127.3" lengthAdjust="spacingAndGlyphs">76,000.00</text>
<text transform="rotate(0.03 780.3 197.3)" x="780.3" y="197.3" font-size="10.2" textLength="127.3" lengthAdjust="spacingAndGlyphs">72,000.00</text>
<text transform="rotate(0.03 780.3 234.88)" x="780.3" y="234.88" font-size="10.2" textLength="127.3" lengthAdjust="spacingAndGlyphs">68,000.00</text>
<text transform="rotate(0.03 780.3 272.45)" x="780.3" y="272.45" font-size="10.2" textLength="127.3" lengthAdjust="spacingAndGlyphs">64,000.00</text>
<text transform="rotate(0.03 780.3 310.03)" x="780.3" y="310.03" font-size="10.2" textLength="127.3" lengthAdjust="spacingAndGlyphs">60,000.00</text>
<text transform="rotate(0.03 780.3 347.6)" x="780.3" y="347.6" font-size="10.2" textLength="127.3" lengthAdjust="spacingAndGlyphs">56,000.00</text>
<g clip-path="url(#cpAxisRsi)">
<text transform="rotate(0.03 779.8 368.8)" x="779.8" y="368.8" font-size="10.2" textLength="72.6" lengthAdjust="spacingAndGlyphs">80.00</text>
</g>
<text transform="rotate(0.03 779.8 398.3)" x="779.8" y="398.3" font-size="10.2" textLength="72.6" lengthAdjust="spacingAndGlyphs">70.00</text>
<text transform="rotate(0.03 779.8 427.9)" x="779.8" y="427.9" font-size="10.2" textLength="72.6" lengthAdjust="spacingAndGlyphs">60.00</text>
<text transform="rotate(0.03 779.8 488)" x="779.8" y="488" font-size="10.2" textLength="72.6" lengthAdjust="spacingAndGlyphs">40.00</text>
<text transform="rotate(0.03 779.8 517.5)" x="779.8" y="517.5" font-size="10.2" textLength="72.6" lengthAdjust="spacingAndGlyphs">30.00</text>
<path d="M759.3,171.8 H918 Q920,171.8 920,173.8 V193.8 Q920,195.8 918,195.8 H759.3 Z" fill="#f23645"/>
<text transform="rotate(0.03 779.4 181.1)" x="779.4" y="181.1" font-size="10.2" textLength="126" lengthAdjust="spacingAndGlyphs" style="fill:#fff;stroke:#fff">73,732.21</text>
<text transform="rotate(0.03 780.8 191.9)" x="780.8" y="191.9" font-size="10.2" textLength="72" lengthAdjust="spacingAndGlyphs" style="fill:#fff;stroke:#fff" fill-opacity="0.92">20:05</text>
<path d="M759.3,343.1 H839.4 Q841.4,343.1 841.4,345.1 V354.6 Q841.4,356.6 839.4,356.6 H759.3 Z" fill="#ef5350"/>
<text transform="rotate(0.03 781.3 353.7)" x="781.3" y="353.7" font-size="10.2" textLength="48" lengthAdjust="spacingAndGlyphs" style="fill:#fff;stroke:#fff">554</text>
<path d="M759.3,450.5 H864 Q866,450.5 866,452.5 V461.4 Q866,463.4 864,463.4 H759.3 Z" fill="#ffeb3b"/>
<text transform="rotate(0.03 780.6 460.7)" x="780.6" y="460.7" font-size="10.2" textLength="72.6" lengthAdjust="spacingAndGlyphs" style="fill:#000;stroke:#000">49.08</text>
<path d="M759.3,465.9 H864 Q866,465.9 866,467.9 V476.9 Q866,478.9 864,478.9 H759.3 Z" fill="#7e57c2"/>
<text transform="rotate(0.03 780.4 476)" x="780.4" y="476" font-size="10.2" textLength="72.8" lengthAdjust="spacingAndGlyphs" style="fill:#fff;stroke:#fff">43.96</text>
<text transform="rotate(0.03 -3 542.5)" x="-3" y="542.5" font-size="10.3" textLength="41.6" lengthAdjust="spacingAndGlyphs" font-weight="bold">Apr</text>
<text transform="rotate(0.03 155 542.5)" x="155" y="542.5" font-size="10.3" textLength="12.8" lengthAdjust="spacingAndGlyphs">5</text>
<text transform="rotate(0.03 298.9 542.5)" x="298.9" y="542.5" font-size="10.3" textLength="13.3" lengthAdjust="spacingAndGlyphs">9</text>
<text transform="rotate(0.03 435.6 542.5)" x="435.6" y="542.5" font-size="10.3" textLength="28.9" lengthAdjust="spacingAndGlyphs">13</text>
<text transform="rotate(0.03 580.4 542.5)" x="580.4" y="542.5" font-size="10.3" textLength="29.4" lengthAdjust="spacingAndGlyphs">17</text>
<text transform="rotate(0.03 724.2 542.5)" x="724.2" y="542.5" font-size="10.3" textLength="26.4" lengthAdjust="spacingAndGlyphs">21</text>
</svg></body></html>
